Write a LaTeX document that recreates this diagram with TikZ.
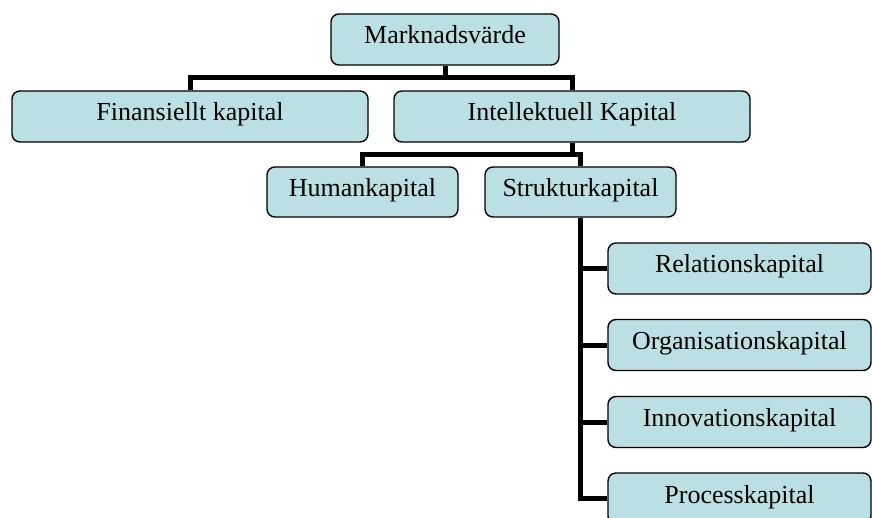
\documentclass[tikz,border=0pt]{standalone}
\usepackage{fontspec}
\setmainfont{Liberation Serif}
\definecolor{boxfill}{RGB}{187,224,227}
\begin{document}
\begin{tikzpicture}[x=1pt,y=-1pt,
  box/.style={draw=black,line width=1.4pt,fill=boxfill,rounded corners=8pt,
    inner sep=0pt,minimum height=51pt,text height=18pt,text depth=9pt,
    font=\fontsize{26}{30}\selectfont},
  conn/.style={line width=5pt,draw=black}]
\useasboundingbox (0,0) rectangle (872,518);

% tree levels
\node[box,minimum width=228pt] (mv)  at (445,39.5)  {Marknadsvärde};
\node[box,minimum width=356pt] (fin) at (190,116.5) {Finansiellt kapital};
\node[box,minimum width=356pt] (int) at (572,116.5) {Intellektuell Kapital};
\node[box,minimum width=191pt,minimum height=50pt] (hum) at (362.5,192) {Humankapital};
\node[box,minimum width=191pt,minimum height=50pt] (str) at (580.5,192) {Strukturkapital};
\node[box,minimum width=263pt] (rel)  at (739.5,268.5) {Relationskapital};
\node[box,minimum width=263pt] (org)  at (739.5,345)   {Organisationskapital};
\node[box,minimum width=263pt] (inn)  at (739.5,422)   {Innovationskapital};
\node[box,minimum width=263pt] (proc) at (739.5,498.5) {Processkapital};

% heights of the horizontal bars
\coordinate (bar1) at (0,78);
\coordinate (bar2) at (0,155);

% connector bars
\draw[conn] (fin.north) |- (mv.south |- bar1) -- (mv.south);
\draw[conn] (mv.south |- bar1) -| (int.north);
\draw[conn] (hum.north) |- (str.north |- bar2) -- (str.north);
\draw[conn] (int.south) -- (int.south |- bar2);
\draw[conn] (str.south) |- (proc.west);
\draw[conn] (str.south |- rel.west) -- (rel.west);
\draw[conn] (str.south |- org.west) -- (org.west);
\draw[conn] (str.south |- inn.west) -- (inn.west);
\end{tikzpicture}
\end{document}
